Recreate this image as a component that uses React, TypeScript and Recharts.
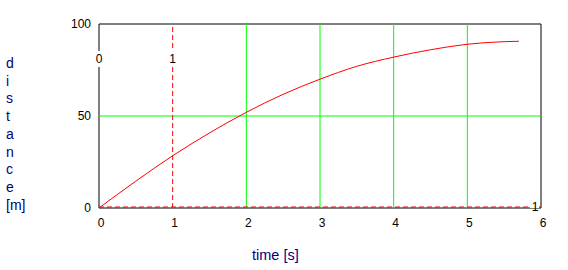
import React from "react";
import {
  LineChart,
  Line,
  XAxis,
  YAxis,
  ReferenceLine,
  ReferenceArea,
} from "recharts";

// ─── Data ──────────────────────────────────────────────────────────────────

const timeS = [0, 0.5, 1, 1.5, 2, 2.5, 3, 3.5, 4, 4.5, 5, 5.5, 5.7];
const distanceM = [0, 14.6, 28.4, 40.8, 52, 61.8, 70, 77, 82, 86, 89, 90.4, 90.6];

const xTicks = [0, 1, 2, 3, 4, 5, 6];
const yTicks = [0, 50, 100];

const gridX = [2, 3, 4, 5];
const gridY = [50];

// cursor markers
const cursorX = 1;
const cursorY = 0;
const markerLabels = ["0", "1", "1"];

const yTitle = ["d", "i", "s", "t", "a", "n", "c", "e", "[m]"];
const xTitle = "time [s]";

const data = timeS.map((t, i) => ({ t, d: distanceM[i] }));

// ─── Marker label (text on a white patch) ──────────────────────────────────

function VLabel({ viewBox, text, offset }: { viewBox?: any; text: string; offset: number }) {
  if (!viewBox) return null;
  const cx = viewBox.x;
  const cy = viewBox.y + offset;
  return (
    <g>
      <rect x={cx - 5} y={cy - 8} width={10} height={16} fill="#fff" />
      <text x={cx} y={cy} textAnchor="middle" dominantBaseline="central" fontSize={12} fill="#000">
        {text}
      </text>
    </g>
  );
}

function HLabel({ viewBox, text }: { viewBox?: any; text: string }) {
  if (!viewBox) return null;
  const cx = viewBox.x + viewBox.width - 6;
  const cy = viewBox.y - 1;
  return (
    <g>
      <rect x={cx - 5} y={cy - 5} width={9} height={6} fill="#fff" />
      <text x={cx} y={cy} textAnchor="middle" dominantBaseline="central" fontSize={12} fill="#000">
        {text}
      </text>
    </g>
  );
}

// ─── Main ──────────────────────────────────────────────────────────────────

export default function App() {
  const font = 'Arial, "Liberation Sans", sans-serif';
  return (
    <div
      style={{
        position: "absolute",
        left: 0,
        top: 0,
        width: 568,
        height: 270,
        background: "#fff",
        fontFamily: font,
      }}
    >
      <LineChart
        width={568}
        height={270}
        data={data}
        margin={{ top: 24, right: 27, bottom: 32, left: 59 }}
        style={{ fontFamily: font }}
      >
        <XAxis
          dataKey="t"
          type="number"
          domain={[0, 6]}
          ticks={xTicks}
          height={30}
          tickLine={false}
          axisLine={false}
          tick={{ fill: "#000", fontSize: 12, dx: 2, dy: 2 }}
        />
        <YAxis
          type="number"
          domain={[0, 100]}
          ticks={yTicks}
          width={40}
          tickLine={false}
          axisLine={false}
          tick={{ fill: "#000", fontSize: 12 }}
        />
        <ReferenceArea x1={0} x2={6} y1={0} y2={100} fill="none" stroke="#000" strokeWidth={1} />

        {gridX.map((x) => (
          <ReferenceLine key={`gx${x}`} x={x} stroke="#00ff00" strokeWidth={1} />
        ))}
        {gridY.map((y) => (
          <ReferenceLine key={`gy${y}`} y={y} stroke="#00ff00" strokeWidth={1} />
        ))}

        <Line
          type="monotone"
          dataKey="d"
          stroke="#ff0000"
          strokeWidth={1}
          dot={false}
          activeDot={false}
          isAnimationActive={false}
        />

        <ReferenceLine
          x={0}
          stroke="none"
          label={(p: any) => <VLabel viewBox={p.viewBox} text={markerLabels[0]} offset={35} />}
        />
        <ReferenceLine
          x={cursorX}
          stroke="#ff0000"
          strokeDasharray="5 3"
          strokeWidth={1}
          label={(p: any) => <VLabel viewBox={p.viewBox} text={markerLabels[1]} offset={35} />}
        />
        <ReferenceLine
          y={cursorY}
          stroke="#ff0000"
          strokeDasharray="5 3"
          strokeWidth={1}
          transform="translate(0,-1)"
          label={(p: any) => <HLabel viewBox={p.viewBox} text={markerLabels[2]} />}
        />
      </LineChart>

      <div
        style={{
          position: "absolute",
          left: 6,
          top: 55,
          width: 24,
          fontSize: 14,
          lineHeight: "17.7px",
          color: "#000080",
          textAlign: "left",
        }}
      >
        {yTitle.map((c, i) => (
          <div key={i}>{c}</div>
        ))}
      </div>
      <div
        style={{
          position: "absolute",
          left: 252,
          top: 246,
          fontSize: 14.5,
          lineHeight: "18px",
          color: "#000080",
          whiteSpace: "nowrap",
        }}
      >
        {xTitle}
      </div>
    </div>
  );
}
